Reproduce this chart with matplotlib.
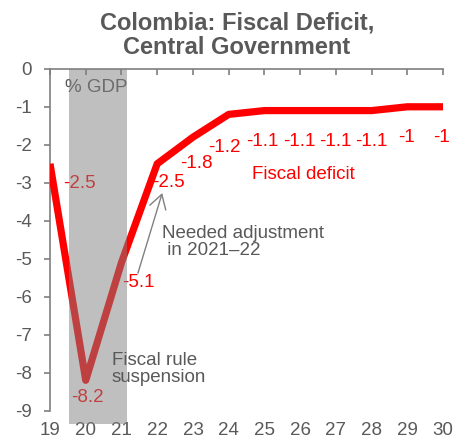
import matplotlib
matplotlib.use("Agg")
import matplotlib.pyplot as plt
from matplotlib.patches import Rectangle

plt.rcParams['font.family'] = ['Liberation Sans', 'DejaVu Sans']

# data
years = [19, 20, 21, 22, 23, 24, 25, 26, 27, 28, 29, 30]
deficit = [-2.5, -8.2, -5.1, -2.5, -1.8, -1.2, -1.1, -1.1, -1.1, -1.1, -1, -1]
value_labels = ["-2.5", "-8.2", "-5.1", "-2.5", "-1.8", "-1.2",
                "-1.1", "-1.1", "-1.1", "-1.1", "-1", "-1"]
# label offsets from the point, in pixels (x right, y up)
label_offsets = [(29, -20), (2, -17), (17, -20), (11, -19), (3, -26), (-4, -33),
                 (-2, -31), (-1, -31), (-1, -31), (0, -31), (-1, -31), (-2, -31)]
suspension = (19.53, 21.15)

grey = "#595959"
red = "#FF0000"
fs = 13.5

fig = plt.figure(figsize=(4.63, 4.41), dpi=100)
ax = fig.add_axes([0.108, 0.0687, 0.849, 0.7753])

ax.plot(years, deficit, color=red, lw=5.2, solid_joinstyle='round',
        solid_capstyle='butt', zorder=3)

px = 72 / fig.dpi
for x, y, s, (dx, dy) in zip(years, deficit, value_labels, label_offsets):
    ax.annotate(s, (x, y), xytext=(dx * px, dy * px), textcoords='offset points',
                ha='center', va='center', color=red, fontsize=fs, zorder=2)

ax.text(20.29, -0.5, "% GDP", ha='center', va='center', color=grey,
        fontsize=fs, zorder=2)

# shaded suspension period, drawn over the line
ax.add_patch(Rectangle((suspension[0], -9.34), suspension[1] - suspension[0], 9.34,
                       facecolor="#808080", alpha=0.5, edgecolor='none',
                       clip_on=False, zorder=4))

ax.text(20.73, -7.9, "Fiscal rule\nsuspension", ha='left', va='center',
        color=grey, fontsize=fs, linespacing=1.0, zorder=5)
ax.text(26.1, -2.77, "Fiscal deficit", ha='center', va='center', color=red,
        fontsize=fs, zorder=5)
ax.text(22.14, -4.55, "Needed adjustment\n in 2021\u201322", ha='left', va='center',
        color=grey, fontsize=fs, linespacing=1.0, zorder=5)
ax.annotate("", xy=(22.14, -3.27), xytext=(21.46, -5.38),
            arrowprops=dict(arrowstyle='->,head_length=0.5,head_width=0.3',
                            color="#808080", lw=1,
                            mutation_scale=20, shrinkA=0, shrinkB=0), zorder=5)

ax.set_xlim(19, 30)
ax.set_ylim(-9, 0)
ax.set_xticks(years)
ax.set_yticks(range(-9, 1))
ax.set_yticklabels([str(v) for v in range(-9, 1)])

for side in ['right', 'bottom']:
    ax.spines[side].set_visible(False)
for side in ['left', 'top']:
    ax.spines[side].set_color("#7F7F7F")
    ax.spines[side].set_linewidth(1.2)

ax.tick_params(axis='x', top=True, bottom=False, labeltop=False, labelbottom=True,
               direction='in', length=4, width=1.2, color="#7F7F7F",
               labelcolor=grey, labelsize=fs, pad=8)
ax.tick_params(axis='y', direction='out', length=4, width=1.2, color="#7F7F7F",
               labelcolor=grey, labelsize=fs, pad=9)

fig.suptitle("Colombia: Fiscal Deficit,\nCentral Government", x=0.512, y=0.975,
             fontsize=17, fontweight='bold', color=grey, linespacing=1.12)

fig.savefig("out.png", dpi=100)
